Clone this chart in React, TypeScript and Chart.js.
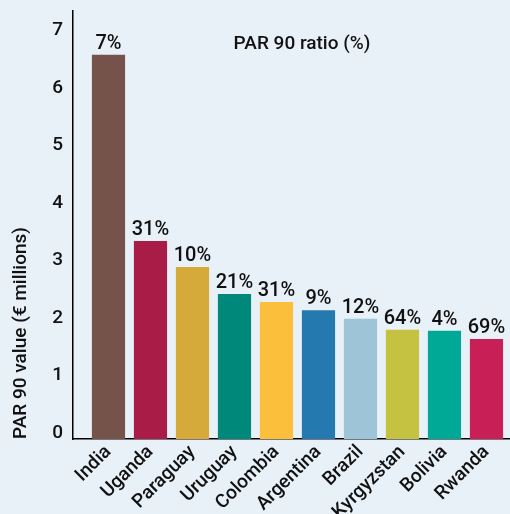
import React, { useEffect, useRef } from "react";
import { Chart, registerables } from "chart.js";

Chart.register(...registerables);

const countries = ["India", "Uganda", "Paraguay", "Uruguay", "Colombia", "Argentina", "Brazil", "Kyrgyzstan", "Bolivia", "Rwanda"];
const par90Values = [6.68, 3.44, 2.99, 2.52, 2.38, 2.24, 2.09, 1.9, 1.88, 1.74];
const par90Ratios = ["7%", "31%", "10%", "21%", "31%", "9%", "12%", "64%", "4%", "69%"];
const barColors = ["#76534a", "#a91c48", "#d6a93b", "#00887a", "#fcbf3b", "#2479ae", "#9ec4d8", "#c4c240", "#00a896", "#c82056"];
const yTicks = [0, 1, 2, 3, 4, 5, 6, 7];

const FONT = 'Roboto, "Liberation Sans", sans-serif';
const BG = "#e8f0f8";

const labelPlugin = {
  id: "ratioLabels",
  afterDatasetsDraw(chart: any) {
    const ctx = chart.ctx;
    const meta = chart.getDatasetMeta(0);
    ctx.save();
    ctx.fillStyle = "#111";
    ctx.font = `500 20px ${FONT}`;
    ctx.textAlign = "center";
    ctx.textBaseline = "alphabetic";
    meta.data.forEach((bar: any, i: number) => {
      ctx.fillText(par90Ratios[i], bar.x, bar.y - 6);
    });
    ctx.font = `500 19px ${FONT}`;
    ctx.fillText("PAR 90 ratio (%)", 302, 49);
    ctx.restore();
  },
};

export default function App() {
  const ref = useRef<HTMLCanvasElement | null>(null);
  useEffect(() => {
    if (!ref.current) return;
    const chart = new Chart(ref.current, {
      type: "bar",
      data: {
        datasets: [
          {
            data: par90Values.map((v, i) => ({ x: i, y: v })),
            backgroundColor: barColors,
            borderWidth: 0,
            categoryPercentage: 1,
            barPercentage: 0.79,
          },
        ],
      },
      options: {
        animation: false,
        responsive: false,
        layout: { padding: { top: 11, right: 0, left: 0, bottom: 0 } },
        plugins: { legend: { display: false }, tooltip: { enabled: false } },
        scales: {
          x: {
            type: "linear",
            offset: false,
            min: -0.845,
            max: 9.56,
            grid: { display: false, drawTicks: false, offset: false },
            border: { display: true, color: "#000", width: 1.5 },
            afterFit: (s: any) => {
              s.height = 75;
              s.paddingLeft = 0;
              s.paddingRight = 0;
            },
            afterBuildTicks: (s: any) => {
              s.ticks = countries.map((_, i) => ({ value: i }));
            },
            ticks: {
              includeBounds: false,
              autoSkip: false,
              maxRotation: 45,
              minRotation: 45,
              color: "#111",
              padding: 2,
              font: { family: FONT, size: 19, weight: "500" },
              callback: (v: any) => countries[v] ?? "",
            },
          },
          y: {
            min: 0,
            max: 7.44,
            grid: { display: false, drawTicks: false },
            border: { display: true, color: "#000", width: 1.5 },
            afterFit: (s: any) => {
              s.width = 73;
              s.paddingTop = 0;
              s.paddingBottom = 0;
            },
            afterBuildTicks: (s: any) => {
              s.ticks = yTicks.map((v) => ({ value: v }));
            },
            ticks: {
              includeBounds: false,
              color: "#111",
              padding: 10,
              labelOffset: -6,
              font: { family: FONT, size: 19, weight: "500" },
            },
            title: {
              display: true,
              align: "start",
              text: "PAR 90 value (€ millions)",
              color: "#111",
              font: { family: FONT, size: 19, weight: "500" },
              padding: { top: 10, bottom: 0 },
            },
          },
        },
      },
      plugins: [labelPlugin],
    } as any);
    return () => chart.destroy();
  }, []);
  return (
    <div style={{ position: "fixed", left: 0, top: 0, width: 510, height: 514, background: BG }}>
      <canvas ref={ref} width={510} height={514} style={{ width: 510, height: 514, display: "block" }} />
    </div>
  );
}
